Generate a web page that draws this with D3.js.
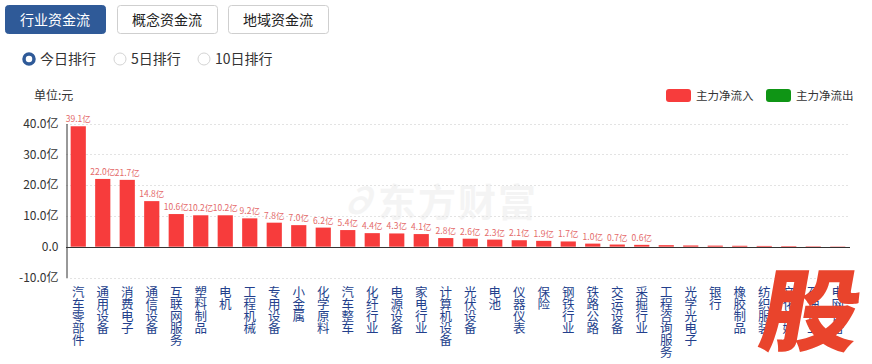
<!DOCTYPE html>
<html>
<head>
<meta charset="utf-8">
<script src="https://cdn.jsdelivr.net/npm/d3@7"></script>
<style>
  body { margin: 0; background: #fff; }
  svg { display: block; font-family: "Noto Sans CJK SC", "Noto Sans", sans-serif; }
</style>
</head>
<body>
<div id="chart"></div>
<script>
// categories (行业) and main net inflow values (亿元)
var categories = ["汽车零部件", "通用设备", "消费电子", "通信设备", "互联网服务", "塑料制品", "电机", "工程机械",
  "专用设备", "小金属", "化学原料", "汽车整车", "化纤行业", "电源设备", "家电行业", "计算机设备",
  "光伏设备", "电池", "仪器仪表", "保险", "钢铁行业", "铁路公路", "交运设备", "采掘行业",
  "工程咨询服务", "光学光电子", "银行", "橡胶制品", "纺织服装", "文化传媒", "石油行业", "电网设备"];
var inflow = [39.1, 22.0, 21.7, 14.8, 10.6, 10.2, 10.2, 9.2, 7.8, 7.0, 6.2, 5.4, 4.4, 4.3, 4.1, 2.8,
  2.6, 2.3, 2.1, 1.9, 1.7, 1.0, 0.7, 0.6, 0.5, 0.4, 0.35, 0.3, 0.25, 0.2, 0.15, 0.1];
var yTicks = [-10, 0, 10, 20, 30, 40];
var tabs = ["行业资金流", "概念资金流", "地域资金流"];
var ranks = ["今日排行", "5日排行", "10日排行"];
var legendItems = [{name: "主力净流入", color: "#f73c3c"}, {name: "主力净流出", color: "#0f9515"}];

var width = 872, height = 364;
var svg = d3.select("#chart").append("svg")
  .attr("width", width)
  .attr("height", height);

// tab buttons
var tabX = d3.scaleBand().domain(tabs).range([5, 329]).paddingInner(0.1);
var tab = svg.selectAll(".tab").data(tabs).enter().append("g").attr("class", "tab");
tab.append("rect")
  .attr("x", function(d) { return Math.round(tabX(d)) + 0.5; })
  .attr("y", 5.5)
  .attr("width", 100)
  .attr("height", 28)
  .attr("rx", 3)
  .attr("fill", function(d, i) { return i == 0 ? "#2f5a98" : "#fff"; })
  .attr("stroke", function(d, i) { return i == 0 ? "#2f5a98" : "#cfcfcf"; });
tab.append("text")
  .attr("x", function(d) { return Math.round(tabX(d)) + 50; })
  .attr("y", 24.5)
  .attr("text-anchor", "middle")
  .attr("font-size", 14)
  .attr("fill", function(d, i) { return i == 0 ? "#fff" : "#222"; })
  .text(function(d) { return d; });

// radio buttons
var radioX = [29, 120, 204];
var radio = svg.selectAll(".radio").data(ranks).enter().append("g").attr("class", "radio");
radio.append("circle")
  .attr("cx", function(d, i) { return radioX[i]; })
  .attr("cy", 59)
  .attr("r", function(d, i) { return i == 0 ? 5 : 6; })
  .attr("fill", "#fff")
  .attr("stroke", function(d, i) { return i == 0 ? "#2f5a98" : "#d4d4d4"; })
  .attr("stroke-width", function(d, i) { return i == 0 ? 3.5 : 1; });
radio.append("text")
  .attr("x", function(d, i) { return radioX[i] + 11; })
  .attr("y", 64)
  .attr("font-size", 14)
  .attr("fill", "#333")
  .text(function(d) { return d; });

// unit label
svg.append("text").attr("x", 34).attr("y", 100).attr("font-size", 12).attr("fill", "#333").text("单位:元");

// legend
var lg = svg.selectAll(".legend").data(legendItems).enter().append("g").attr("class", "legend")
  .attr("transform", function(d, i) { return "translate(" + (666 + i * 100) + ",89)"; });
lg.append("rect").attr("width", 25).attr("height", 13).attr("rx", 3).attr("fill", function(d) { return d.color; });
lg.append("text").attr("x", 30).attr("y", 11).attr("font-size", 11.5).attr("fill", "#333")
  .text(function(d) { return d.name; });

// scales
var x = d3.scaleBand().domain(categories).range([66, 850]).paddingInner(0.38).paddingOuter(0.19);
var y = d3.scaleLinear().domain([-10, 40]).range([277.5, 123.5]);

// watermark (very faint, behind everything)
var wm = svg.append("g");
wm.append("text").attr("x", 378).attr("y", 216).attr("font-size", 38).attr("font-weight", "bold")
  .attr("fill", "#f4f4f4").attr("letter-spacing", 2).text("东方财富");
wm.append("text").attr("x", 340).attr("y", 214).attr("font-size", 36).attr("font-weight", "bold")
  .attr("font-style", "italic").attr("fill", "#f4f4f4").text("∂");

// grid lines
svg.selectAll(".grid").data(yTicks.filter(function(d) { return d != 0; })).enter().append("line")
  .attr("x1", 66).attr("x2", 850)
  .attr("y1", function(d) { return Math.round(y(d)) + 0.5; })
  .attr("y2", function(d) { return Math.round(y(d)) + 0.5; })
  .attr("stroke", "#e3e3e3")
  .attr("stroke-dasharray", "2,2");

// y axis
var yAxis = d3.axisLeft(y).tickValues(yTicks).tickSize(0).tickPadding(8)
  .tickFormat(function(d) { return d == 0 ? "0.0" : d.toFixed(1) + "亿"; });
var gy = svg.append("g").attr("transform", "translate(66.5,0)").call(yAxis);
gy.select(".domain").attr("stroke", "#333");
gy.selectAll("text").attr("font-size", 12).attr("fill", "#333")
  .attr("font-family", "\"Noto Sans CJK SC\", sans-serif");

// bars
svg.selectAll(".bar").data(categories).enter().append("rect")
  .attr("class", "bar")
  .attr("x", function(d) { return x(d); })
  .attr("width", x.bandwidth())
  .attr("y", function(d, i) { return y(inflow[i]); })
  .attr("height", function(d, i) { return y(0) - y(inflow[i]); })
  .attr("fill", "#f73c3c");

// value labels (only the larger ones are shown)
svg.selectAll(".val").data(categories).enter().append("text")
  .filter(function(d, i) { return inflow[i] >= 0.6; })
  .attr("x", function(d) { return x(d) + x.bandwidth() / 2; })
  .attr("y", function(d) { return y(inflow[categories.indexOf(d)]) - 4; })
  .attr("text-anchor", "middle")
  .attr("font-size", 8.5)
  .attr("fill", "#e46a6a")
  .text(function(d) { return inflow[categories.indexOf(d)].toFixed(1) + "亿"; });

// zero line
svg.append("line").attr("x1", 66).attr("x2", 850)
  .attr("y1", Math.round(y(0)) + 0.5).attr("y2", Math.round(y(0)) + 0.5)
  .attr("stroke", "#333");

// vertical category labels
var cl = svg.selectAll(".cat").data(categories).enter().append("text")
  .attr("class", "cat")
  .attr("text-anchor", "middle")
  .attr("font-size", 12.5)
  .attr("fill", "#233f8c");
cl.selectAll("tspan").data(function(d) { return d.split("").map(function(c) { return {c: c, cat: d}; }); })
  .enter().append("tspan")
  .attr("x", function(d) { return x(d.cat) + x.bandwidth() / 2; })
  .attr("y", function(d, i) { return 297 + i * 12; })
  .text(function(d) { return d.c; });

// corner logo
svg.append("text")
  .attr("transform", "translate(756,344) skewX(-10) scale(1.1,1)")
  .attr("font-size", 90)
  .attr("font-weight", 900)
  .attr("fill", "#e9442c")
  .text("股");
</script>
</body>
</html>
